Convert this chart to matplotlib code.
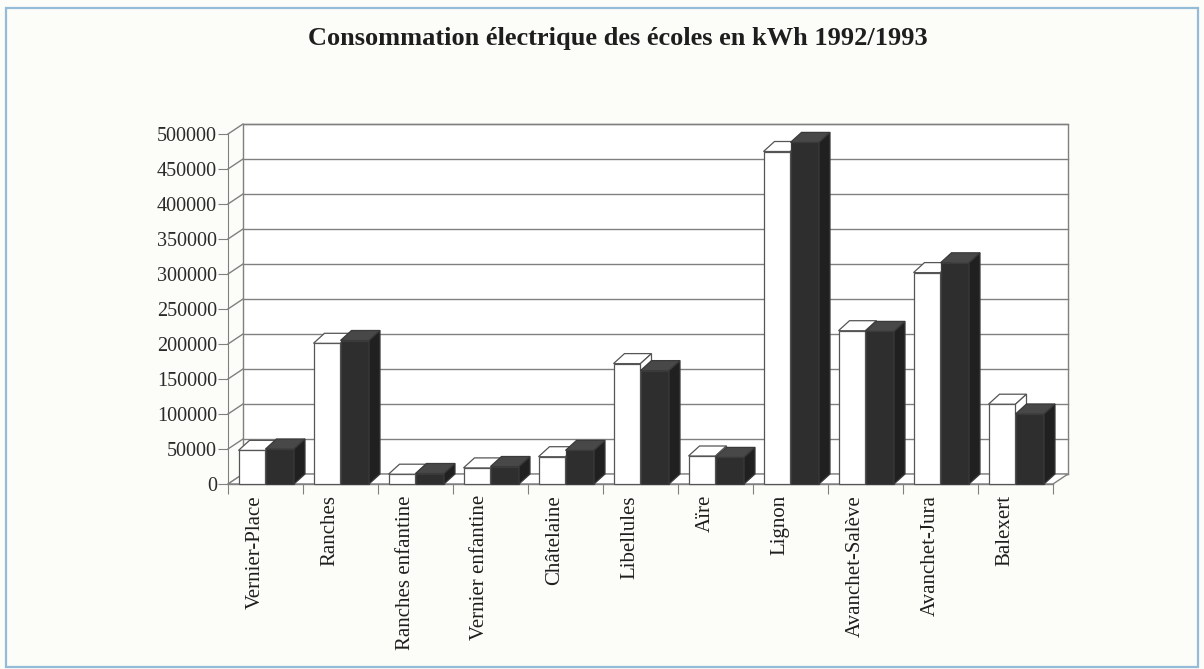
# Consommation électrique des écoles (kWh) - histogramme pseudo-3D façon tableur

import matplotlib.pyplot as plt
import numpy as np
from matplotlib.patches import Polygon, Rectangle

plt.rcParams['font.family'] = ['Liberation Serif', 'DejaVu Serif']

# ----------------------------------------------------------------------------
# Données
# ----------------------------------------------------------------------------
ecoles = ['Vernier-Place', 'Ranches', 'Ranches enfantine', 'Vernier enfantine',
          'Châtelaine', 'Libellules', 'Aïre', 'Lignon', 'Avanchet-Salève',
          'Avanchet-Jura', 'Balexert']
kwh_blanc = [48000, 201000, 14000, 23000, 39000, 172000, 40000, 475000, 219000, 302000, 114000]
kwh_noir = [50000, 205000, 15000, 25000, 48000, 162000, 38000, 488000, 218000, 316000, 100000]
graduations = np.arange(0, 500001, 50000)

titre = 'Consommation électrique des écoles en kWh 1992/1993'

# ----------------------------------------------------------------------------
# Figure et axes (plan avant)
# ----------------------------------------------------------------------------
W, H = 1204, 669
fig = plt.figure(figsize=(W / 100, H / 100), dpi=100)
fig.patch.set_facecolor('#fcfcf8')

# cadre bleu clair autour de la figure
fig.add_artist(Rectangle((6 / W, 2 / H), 1192 / W, 659 / H, transform=fig.transFigure,
                         fill=False, edgecolor='#94bcd8', linewidth=1.6))

ax = fig.add_axes([228 / W, 185 / H, 825 / W, 350 / H])
ax.set_xlim(0, len(ecoles))
ax.set_ylim(0, 500000)
ax.set_facecolor('none')

# profondeur (pixels -> unités de données)
px_x = len(ecoles) / 825
px_y = 500000 / 350
mur_dx, mur_dy = 15 * px_x, 10 * px_y      # profondeur du mur du fond
barre_dx, barre_dy = 11 * px_x, 10 * px_y  # profondeur des barres

n = len(ecoles)
gris = '#808080'

# mur du fond
ax.add_patch(Rectangle((mur_dx, mur_dy), n, 500000, facecolor='white',
                       edgecolor=gris, linewidth=1.0, clip_on=False, zorder=1))
for v in graduations:
    # lignes du mur du fond
    ax.plot([mur_dx, n + mur_dx], [v + mur_dy, v + mur_dy], color=gris, lw=1.0,
            clip_on=False, zorder=2)
    # diagonales du mur de gauche
    ax.plot([0, mur_dx], [v, v + mur_dy], color=gris, lw=1.0, clip_on=False, zorder=2)

# plancher
ax.add_patch(Polygon([(0, 0), (n, 0), (n + mur_dx, mur_dy), (mur_dx, mur_dy)],
                     closed=True, facecolor='white', edgecolor=gris, linewidth=1.0,
                     clip_on=False, zorder=2))


def barre_3d(x0, x1, v, face, dessus, cote, bord):
    ax.add_patch(Rectangle((x0, 0), x1 - x0, v, facecolor=face, edgecolor=bord,
                           linewidth=0.9, clip_on=False, zorder=4))
    ax.add_patch(Polygon([(x0, v), (x1, v), (x1 + barre_dx, v + barre_dy), (x0 + barre_dx, v + barre_dy)],
                         closed=True, facecolor=dessus, edgecolor=bord, linewidth=0.9,
                         clip_on=False, zorder=4))
    ax.add_patch(Polygon([(x1, 0), (x1 + barre_dx, barre_dy), (x1 + barre_dx, v + barre_dy), (x1, v)],
                         closed=True, facecolor=cote, edgecolor=bord, linewidth=0.9,
                         clip_on=False, zorder=4))


for i in range(n):
    barre_3d(i + 0.14, i + 0.50, kwh_blanc[i], 'white', 'white', 'white', '#555555')
    barre_3d(i + 0.50, i + 0.88, kwh_noir[i], '#2e2e2e', '#484848', '#202020', '#3a3a3a')

# ----------------------------------------------------------------------------
# Axes, graduations, étiquettes
# ----------------------------------------------------------------------------
for s in ['top', 'right', 'bottom']:
    ax.spines[s].set_visible(False)
ax.spines['left'].set_color(gris)
ax.spines['left'].set_zorder(3)

ax.set_yticks(graduations)
ax.set_yticklabels([str(v) for v in graduations], fontsize=14.5, color='#2a2a2a')
ax.tick_params(axis='y', length=7, color=gris, pad=1)

ax.set_xticks(np.arange(n + 1))
ax.set_xticklabels([])
ax.tick_params(axis='x', which='major', length=7, color=gris)
ax.set_xticks(np.arange(n) + 0.36, minor=True)
ax.set_xticklabels(ecoles, minor=True, rotation=90, fontsize=15, color='#1e1e1e',
                   va='top', ha='center')
ax.tick_params(axis='x', which='minor', length=0, pad=8)

ax.plot([0, n], [0, 0], color=gris, lw=1.0, clip_on=False, zorder=3)

fig.text(618 / W, 1 - 39 / H, titre, ha='center', va='center', fontsize=19,
         fontweight='bold', color='#1e1e1e')

fig.savefig('out.png', dpi=100, facecolor=fig.get_facecolor())
